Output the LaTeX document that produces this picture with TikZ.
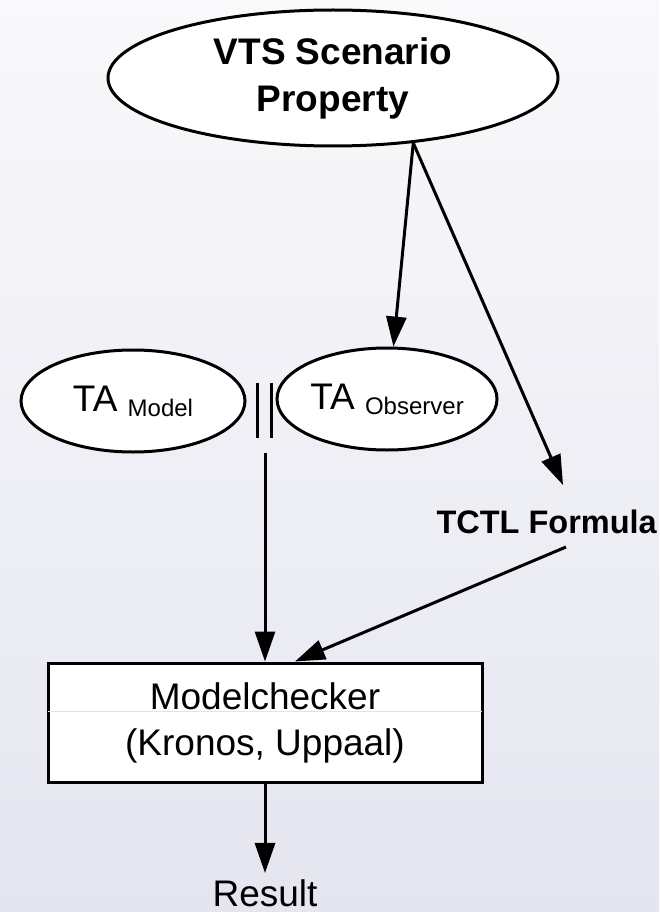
\documentclass[tikz,border=0pt]{standalone}
\usepackage{fontspec}
\setmainfont{Liberation Sans}
\usetikzlibrary{shapes.geometric,arrows.meta,calc}

\definecolor{bgtop}{RGB}{249,249,251}
\definecolor{bgbot}{RGB}{229,229,240}
\definecolor{sepline}{RGB}{226,226,234}

% subscript set smaller and slightly below the baseline
\newcommand\lowsub[1]{\raisebox{-5pt}{\fontsize{24}{24}\selectfont #1}}

\begin{document}
\begin{tikzpicture}[x=1pt,y=1pt,
  bubble/.style={ellipse, draw=black, fill=white, line width=3pt, inner sep=0pt},
  flow/.style={line width=3pt, -{Triangle[length=30pt,width=20pt]}},
  bar/.style={line width=3pt},
  plain/.style={font=\fontsize{37}{46}\selectfont},
]
% background
\shade[top color=bgtop, bottom color=bgbot] (0,0) rectangle (659,-912);
\useasboundingbox (0,0) rectangle (659,-912);

% nodes
\node[bubble, minimum width=450pt, minimum height=136pt, align=center,
      font=\bfseries\fontsize{37}{47}\selectfont] (vts) at (333,-78) {VTS Scenario\\Property};
\node[bubble, plain, minimum width=224pt, minimum height=102pt] (model) at (133,-401) {TA \lowsub{Model}};
\node[bubble, plain, minimum width=220pt, minimum height=102pt] (obs) at (387,-399) {TA \lowsub{Observer}};
\node[anchor=base east, inner sep=0pt, font=\bfseries\fontsize{32.5}{39}\selectfont] (tctl) at (657,-533) {TCTL Formula};
\node[draw=black, fill=white, line width=3pt, plain, minimum width=434pt, minimum height=119pt,
      inner sep=0pt, align=center] (mc) at (265,-722.5) {Modelchecker\\(Kronos, Uppaal)};
\node[plain, anchor=base, inner xsep=0pt, inner ysep=6pt] (result) at (265,-906) {Result};

% faint divider inside the checker box
\draw[sepline, line width=1pt] ($(mc.north west)+(1.5,-50)$) -- ($(mc.north east)+(-1.5,-50)$);

% parallel composition bars
\draw[bar] (257,-383) -- (257,-438);
\draw[bar] (271,-383) -- (271,-438);

% connectors
\coordinate (tctlin) at (563,-485);
\coordinate (tctlout) at (566,-547);
\coordinate (parout) at (265,-453);
\draw[flow] (vts.-39) -- (obs.83);
\draw[flow] (vts.-39) -- (tctlin);
\draw[flow] (parout) -- (mc.north);
\draw[flow] (tctlout) -- ($(mc.north)+(30,0)$);
\draw[flow] (mc.south) -- (result.north);
\end{tikzpicture}
\end{document}
